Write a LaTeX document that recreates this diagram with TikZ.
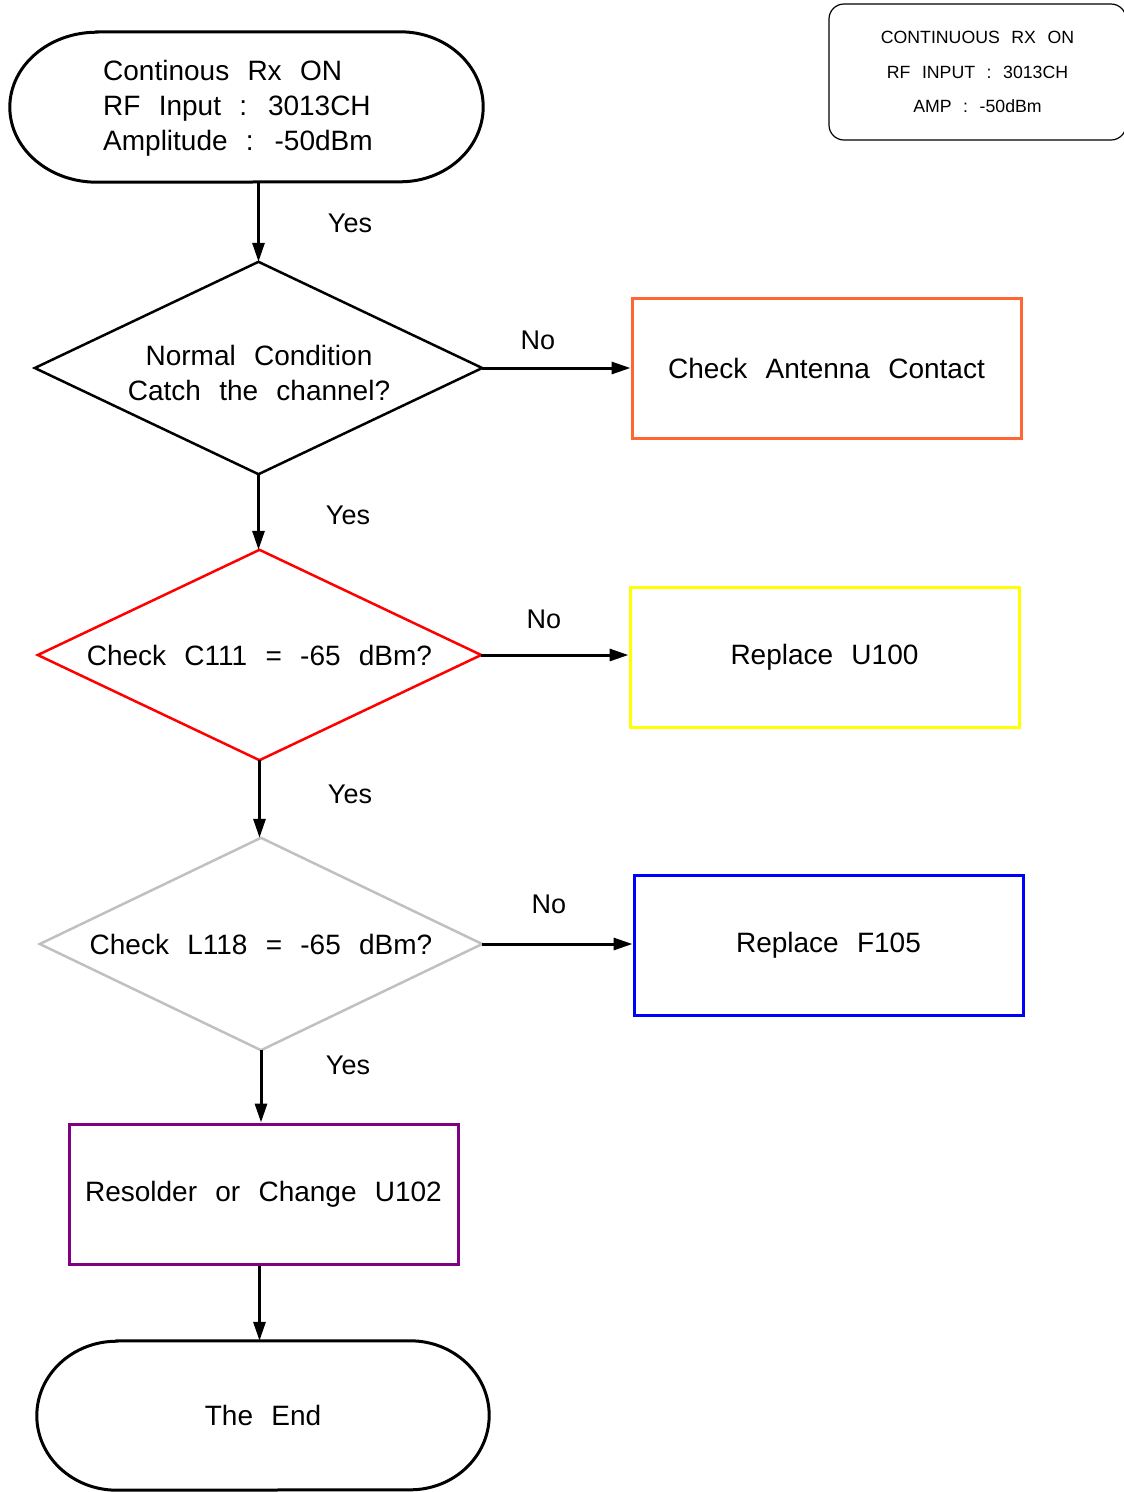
\documentclass[tikz,border=0pt]{standalone}
\usepackage{fontspec}
\setmainfont{Liberation Sans}[WordSpace=2.35]
\usetikzlibrary{arrows.meta}
\definecolor{borange}{RGB}{255,102,51}
\definecolor{byellow}{RGB}{255,255,0}
\definecolor{bblue}{RGB}{0,0,255}
\definecolor{bpurple}{RGB}{128,0,128}
\definecolor{bred}{RGB}{255,0,0}
\definecolor{bgray}{RGB}{192,192,192}
\begin{document}
\begin{tikzpicture}[x=1pt,y=-1pt,
  txt/.style={font=\fontsize{28}{35}\selectfont},
  box/.style={draw, line width=3pt, minimum width=389pt, minimum height=140pt, inner sep=0pt, txt},
  dia/.style={minimum width=445pt, minimum height=211pt, inner sep=0pt, align=center, txt},
  term/.style={minimum height=150pt, inner sep=0pt, txt},
  lbl/.style={font=\fontsize{27}{32}\selectfont, inner sep=0pt},
  arr/.style={line width=3pt, -{Triangle[length=19pt,width=12pt]}}]
\useasboundingbox (0,0) rectangle (1124,1492);

% info box
\node[draw, rounded corners=15pt, line width=1.2pt, minimum width=297pt, minimum height=136pt, align=center, inner sep=0pt, font=\fontsize{17.7}{34.5}\selectfont] (info) at (977.5,72) {CONTINUOUS RX ON\\RF INPUT : 3013CH\\AMP : -50dBm};

% start
\node[term, minimum width=473pt] (start) at (246.5,107) {};
\draw[line width=3pt] ([xshift=87pt]start.north west) -- ([xshift=-83pt]start.north east)
  arc[start angle=90,end angle=-90,x radius=83pt,y radius=75pt]
  -- ([xshift=87pt]start.south west)
  arc[start angle=270,end angle=90,x radius=87pt,y radius=75pt] -- cycle;
\node[txt, anchor=west, align=left, inner sep=0pt] (starttext) at (103,108) {Continous Rx ON\\RF Input : 3013CH\\Amplitude : -50dBm};

% decision 1
\node[dia, minimum width=447pt, minimum height=212pt] (d1) at (258.5,368) {};
\draw[line width=2.5pt, line join=miter] (d1.west) -- (d1.north) -- (d1.east) -- (d1.south) -- cycle;
\node[txt, align=center, inner sep=0pt] (d1text) at (259,373) {Normal Condition\\Catch the channel?};
\node[box, draw=borange] (b1) at (826.5,368) {Check Antenna Contact};

% decision 2
\node[dia, minimum width=443pt, minimum height=210pt] (d2) at (259.5,655) {Check C111 = -65 dBm?};
\draw[line width=2.5pt, bred] (d2.west) -- (d2.north) -- (d2.east) -- (d2.south) -- cycle;
\node[box, draw=byellow] (b2) at (824.5,657) {Replace U100};

% decision 3
\node[dia, minimum width=442pt, minimum height=212pt] (d3) at (261,944) {Check L118 = -65 dBm?};
\draw[line width=2.5pt, bgray] (d3.west) -- (d3.north) -- (d3.east) -- (d3.south) -- cycle;
\node[box, draw=bblue] (b3) at (828.5,945) {Replace F105};

% resolder
\node[box, draw=bpurple] (b4) at (263.5,1194) {Resolder or Change U102};

% end
\node[term, minimum width=452pt, minimum height=149pt] (end) at (263,1415.5) {The End};
\draw[line width=3pt] ([xshift=80pt]end.north west) -- ([xshift=-79pt]end.north east)
  arc[start angle=90,end angle=-90,x radius=79pt,y radius=74.5pt]
  -- ([xshift=80pt]end.south west)
  arc[start angle=270,end angle=90,x radius=80pt,y radius=74.5pt] -- cycle;

% connectors
\draw[arr] (start.south -| d1.north) -- (d1.north);
\draw[arr] (d1.east) -- (b1.west);
\draw[arr] (d1.south) -- (d1.south |- d2.north);
\draw[arr] (d2.east) -- (d2.east -| b2.west);
\draw[arr] (d2.south) -- (d2.south |- d3.north);
\draw[arr] (d3.east) -- (d3.east -| b3.west);
\draw[arr] (d3.south) -- (d3.south |- b4.north);
\draw[arr] (b4.south -| d2.south) -- (end.north -| d2.south);

% labels
\node[lbl] (y1) at (350,223) {Yes};
\node[lbl] (y2) at (348,515) {Yes};
\node[lbl] (y3) at (350,794) {Yes};
\node[lbl] (y4) at (348,1065) {Yes};
\node[lbl] (n1) at (538,340) {No};
\node[lbl] (n2) at (544,619) {No};
\node[lbl] (n3) at (549,904) {No};
\end{tikzpicture}
\end{document}
